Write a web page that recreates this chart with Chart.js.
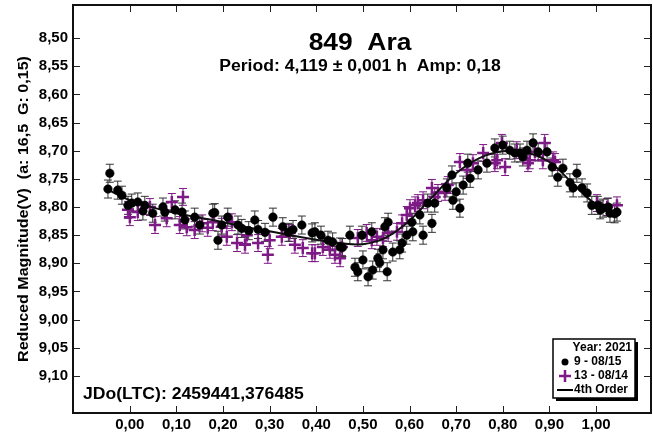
<!DOCTYPE html>
<html>
<head>
<meta charset="utf-8">
<script src="https://cdn.jsdelivr.net/npm/chart.js@4.4.1/dist/chart.umd.min.js"></script>
<style>
  html, body { margin: 0; padding: 0; background: #fff; }
</style>
</head>
<body>
<canvas id="lc" width="653" height="436"></canvas>
<script>
// ticks
const phaseTicks = [0, 0.1, 0.2, 0.3, 0.4, 0.5, 0.6, 0.7, 0.8, 0.9, 1.0];
const magTicks = [8.50, 8.55, 8.60, 8.65, 8.70, 8.75, 8.80, 8.85, 8.90, 8.95, 9.00, 9.05, 9.10];

// session 9 - 08/15 (black dots)
const blackPhase = [-0.047, -0.043, -0.026, -0.017, -0.004, 0.004, 0.017, 0.028, 0.032, 0.049,
  0.071, 0.075, 0.097, 0.112, 0.118, 0.139, 0.150, 0.178, 0.182, 0.189,
  0.197, 0.210, 0.232, 0.240, 0.255, 0.268, 0.275, 0.290, 0.307, 0.328,
  0.340, 0.350, 0.369, 0.391, 0.397, 0.410, 0.425, 0.435, 0.451, 0.456,
  0.472, 0.483, 0.489, 0.498, 0.500, 0.511, 0.519, 0.521, 0.532, 0.536,
  0.543, 0.547, 0.552, 0.554, 0.564, 0.579, 0.584, 0.594, 0.605, 0.607,
  0.622, 0.629, 0.639, 0.648, 0.654, 0.680, 0.691, 0.693, 0.700, 0.708,
  0.715, 0.725, 0.730, 0.747, 0.766, 0.783, 0.800, 0.815, 0.826, 0.837,
  0.843, 0.852, 0.865, 0.876, 0.895, 0.906, 0.918, 0.929, 0.944, 0.951,
  0.959, 0.970, 0.981, 0.991, 1.004, 1.009, 1.015, 1.026, 1.030, 1.040, 1.045];
const blackMag = [8.768, 8.740, 8.770, 8.779, 8.797, 8.793, 8.791, 8.807, 8.797, 8.811,
  8.800, 8.809, 8.805, 8.809, 8.823, 8.818, 8.832, 8.811, 8.810, 8.859,
  8.832, 8.818, 8.832, 8.838, 8.842, 8.823, 8.840, 8.845, 8.818, 8.835,
  8.845, 8.840, 8.832, 8.846, 8.844, 8.850, 8.859, 8.862, 8.871, 8.872,
  8.850, 8.907, 8.915, 8.850, 8.894, 8.924, 8.844, 8.912, 8.891, 8.899,
  8.876, 8.835, 8.915, 8.827, 8.880, 8.876, 8.864, 8.850, 8.827, 8.844,
  8.814, 8.850, 8.793, 8.829, 8.793, 8.766, 8.743, 8.788, 8.773, 8.802,
  8.761, 8.722, 8.749, 8.734, 8.722, 8.695, 8.690, 8.699, 8.704, 8.704,
  8.711, 8.699, 8.686, 8.702, 8.702, 8.729, 8.747, 8.731, 8.757, 8.766,
  8.740, 8.766, 8.775, 8.797, 8.797, 8.805, 8.802, 8.800, 8.811, 8.812, 8.809];
const blackErr = 0.016;

// session 13 - 08/14 (purple crosses)
const purplePhase = [-0.004, 0.000, 0.017, 0.043, 0.054, 0.079, 0.090, 0.107, 0.114, 0.122,
  0.139, 0.155, 0.167, 0.178, 0.197, 0.208, 0.219, 0.230, 0.247, 0.251,
  0.275, 0.296, 0.300, 0.326, 0.343, 0.354, 0.371, 0.391, 0.397, 0.414,
  0.429, 0.440, 0.451, 0.455, 0.489, 0.508, 0.519, 0.530, 0.543, 0.554,
  0.573, 0.584, 0.594, 0.601, 0.612, 0.618, 0.629, 0.648, 0.654, 0.661,
  0.676, 0.682, 0.708, 0.723, 0.736, 0.758, 0.783, 0.788, 0.798, 0.805,
  0.830, 0.854, 0.858, 0.869, 0.890, 0.886, 0.908, 0.912, 1.002, 1.024, 1.045];
const purpleMag = [8.805, 8.818, 8.809, 8.800, 8.832, 8.820, 8.791, 8.832, 8.782, 8.836,
  8.841, 8.829, 8.837, 8.827, 8.835, 8.853, 8.827, 8.864, 8.867, 8.850,
  8.864, 8.885, 8.859, 8.853, 8.846, 8.867, 8.873, 8.882, 8.882, 8.871,
  8.876, 8.885, 8.891, 8.871, 8.855, 8.846, 8.859, 8.853, 8.855, 8.846,
  8.844, 8.829, 8.814, 8.802, 8.797, 8.793, 8.788, 8.766, 8.782, 8.775,
  8.773, 8.761, 8.720, 8.734, 8.722, 8.704, 8.722, 8.717, 8.686, 8.729,
  8.699, 8.722, 8.717, 8.702, 8.686, 8.717, 8.717, 8.720, 8.793, 8.800, 8.797];
const purpleErr = 0.015;

// 4th order fit
const fitPhase = [-0.05, 0.00, 0.05, 0.10, 0.15, 0.20, 0.25, 0.30, 0.35, 0.40, 0.45,
  0.50, 0.55, 0.60, 0.65, 0.70, 0.75, 0.80, 0.85, 0.90, 0.95, 1.00, 1.05];
const fitMag = [8.768, 8.788, 8.801, 8.811, 8.819, 8.827, 8.836, 8.843, 8.851, 8.858, 8.864,
  8.866, 8.854, 8.824, 8.781, 8.740, 8.713, 8.701, 8.703, 8.720, 8.758, 8.795, 8.811];

const PURPLE = '#7d1a85';
const FONT = '"Liberation Sans", Arial, sans-serif';

function pts(xs, ys) { return xs.map((x, i) => ({ x: x, y: ys[i] })); }
function comma(v) { return Number(v).toFixed(2).replace('.', ','); }

function stretchText(ctx, txt, x, y, font, align, sx) {
    ctx.save();
    ctx.font = font;
    ctx.textBaseline = 'middle';
    ctx.textAlign = align;
    ctx.translate(x, y);
    ctx.scale(sx, 1);
    ctx.fillText(txt, 0, 0);
    ctx.restore();
}

const errorBars = {
    id: 'errorBars',
    beforeDatasetsDraw(chart) {
        const { ctx, chartArea: a, scales: { x, y } } = chart;
        ctx.save();
        ctx.beginPath();
        ctx.rect(a.left, a.top, a.right - a.left, a.bottom - a.top);
        ctx.clip();
        ctx.lineWidth = 1;
        const sets = [[purplePhase, purpleMag, purpleErr, PURPLE], [blackPhase, blackMag, blackErr, '#333']];
        sets.forEach(([ph, mg, er, col]) => {
            ctx.strokeStyle = col;
            ph.forEach((p, i) => {
                const px = x.getPixelForValue(p);
                const y1 = y.getPixelForValue(mg[i] - er);
                const y2 = y.getPixelForValue(mg[i] + er);
                ctx.beginPath();
                ctx.moveTo(px, y1); ctx.lineTo(px, y2);
                ctx.moveTo(px - 4, y1); ctx.lineTo(px + 4, y1);
                ctx.moveTo(px - 4, y2); ctx.lineTo(px + 4, y2);
                ctx.stroke();
            });
        });
        ctx.restore();
    }
};

const frame = {
    id: 'frame',
    afterDraw(chart) {
        const { ctx, chartArea: a, scales: { x, y } } = chart;
        ctx.save();
        // inward ticks
        ctx.strokeStyle = '#222';
        ctx.lineWidth = 1;
        ctx.beginPath();
        phaseTicks.forEach(v => {
            const px = Math.round(x.getPixelForValue(v)) + 0.5;
            ctx.moveTo(px, a.bottom); ctx.lineTo(px, a.bottom - 7);
            ctx.moveTo(px, a.top); ctx.lineTo(px, a.top + 7);
        });
        magTicks.forEach(v => {
            const py = Math.round(y.getPixelForValue(v)) + 0.5;
            ctx.moveTo(a.left, py); ctx.lineTo(a.left + 7, py);
            ctx.moveTo(a.right, py); ctx.lineTo(a.right - 7, py);
        });
        ctx.stroke();
        // box
        ctx.lineWidth = 2;
        ctx.strokeStyle = '#111';
        ctx.strokeRect(a.left, a.top, a.right - a.left, a.bottom - a.top);

        // texts
        ctx.fillStyle = '#000';
        stretchText(ctx, '849  Ara', 360, 43, 'bold 24px ' + FONT, 'center', 1.1);
        stretchText(ctx, 'Period: 4,119 \u00b1 0,001 h  Amp: 0,18', 360, 67, 'bold 16px ' + FONT, 'center', 1.1);
        stretchText(ctx, 'JDo(LTC): 2459441,376485', 83, 395, 'bold 16px ' + FONT, 'left', 1.1);

        ctx.save();
        ctx.translate(24, (a.top + a.bottom) / 2);
        ctx.rotate(-Math.PI / 2);
        stretchText(ctx, 'Reduced Magnitude(V)  (a: 16,5  G: 0,15)', 0, 0, 'bold 15px ' + FONT, 'center', 1.07);
        ctx.restore();

        // legend box
        const L = 553, T = 339, W = 82, H = 59;
        ctx.fillStyle = '#000';
        ctx.fillRect(L + 3, T + 3, W, H);
        ctx.fillStyle = '#fff';
        ctx.fillRect(L, T, W, H);
        ctx.lineWidth = 1.5;
        ctx.strokeStyle = '#000';
        ctx.strokeRect(L, T, W, H);
        ctx.fillStyle = '#000';
        const lf = 'bold 12px ' + FONT;
        stretchText(ctx, 'Year: 2021', L + W - 3, T + 9, lf, 'right', 1.0);
        ctx.beginPath();
        ctx.arc(L + 12, T + 23, 3.5, 0, Math.PI * 2);
        ctx.fill();
        stretchText(ctx, '9 - 08/15', L + 21, T + 23, lf, 'left', 1.0);
        ctx.strokeStyle = PURPLE;
        ctx.lineWidth = 2.5;
        ctx.beginPath();
        ctx.moveTo(L + 6, T + 37); ctx.lineTo(L + 18, T + 37);
        ctx.moveTo(L + 12, T + 31); ctx.lineTo(L + 12, T + 43);
        ctx.stroke();
        stretchText(ctx, '13 - 08/14', L + 21, T + 37, lf, 'left', 1.0);
        ctx.strokeStyle = '#000';
        ctx.lineWidth = 2;
        ctx.beginPath();
        ctx.moveTo(L + 4, T + 51); ctx.lineTo(L + 20, T + 51);
        ctx.stroke();
        stretchText(ctx, '4th Order', L + 21, T + 51, lf, 'left', 1.0);
        ctx.restore();
    }
};

new Chart(document.getElementById('lc'), {
    type: 'scatter',
    data: {
        datasets: [
            {
                label: '9 - 08/15',
                data: pts(blackPhase, blackMag),
                pointStyle: 'circle',
                pointRadius: 4.3,
                pointBackgroundColor: '#000',
                pointBorderColor: '#000',
                pointBorderWidth: 0.5,
                order: 0
            },
            {
                label: '4th Order',
                type: 'line',
                data: pts(fitPhase, fitMag),
                showLine: true,
                borderColor: '#111',
                borderWidth: 2,
                pointRadius: 0,
                tension: 0.4,
                fill: false,
                order: 1
            },
            {
                label: '13 - 08/14',
                data: pts(purplePhase, purpleMag),
                pointStyle: 'cross',
                pointRadius: 6,
                pointBorderColor: PURPLE,
                pointBorderWidth: 2.5,
                order: 2
            }
        ]
    },
    options: {
        responsive: false,
        animation: false,
        layout: { autoPadding: false, padding: { top: 5, right: 2, left: 0, bottom: 0 } },
        plugins: { legend: { display: false }, tooltip: { enabled: false } },
        scales: {
            x: {
                type: 'linear',
                min: -0.122,
                max: 1.118,
                afterBuildTicks: s => { s.ticks = phaseTicks.map(v => ({ value: v })); },
                afterFit: s => { s.height = 23; s.paddingLeft = 0; s.paddingRight = 0; },
                ticks: {
                    callback: v => comma(v),
                    color: '#000',
                    font: { family: FONT, size: 15, weight: 'bold' },
                    padding: 3,
                    maxRotation: 0,
                    autoSkip: false
                },
                grid: { display: false, drawTicks: false },
                border: { display: false }
            },
            y: {
                type: 'linear',
                reverse: true,
                min: 8.441,
                max: 9.166,
                afterBuildTicks: s => { s.ticks = magTicks.map(v => ({ value: v })); },
                afterFit: s => { s.width = 73; s.paddingTop = 0; s.paddingBottom = 0; },
                ticks: {
                    callback: v => comma(v),
                    color: '#000',
                    font: { family: FONT, size: 15, weight: 'bold' },
                    padding: 5,
                    autoSkip: false
                },
                grid: { display: false, drawTicks: false },
                border: { display: false }
            }
        }
    },
    plugins: [errorBars, frame]
});
</script>
</body>
</html>
